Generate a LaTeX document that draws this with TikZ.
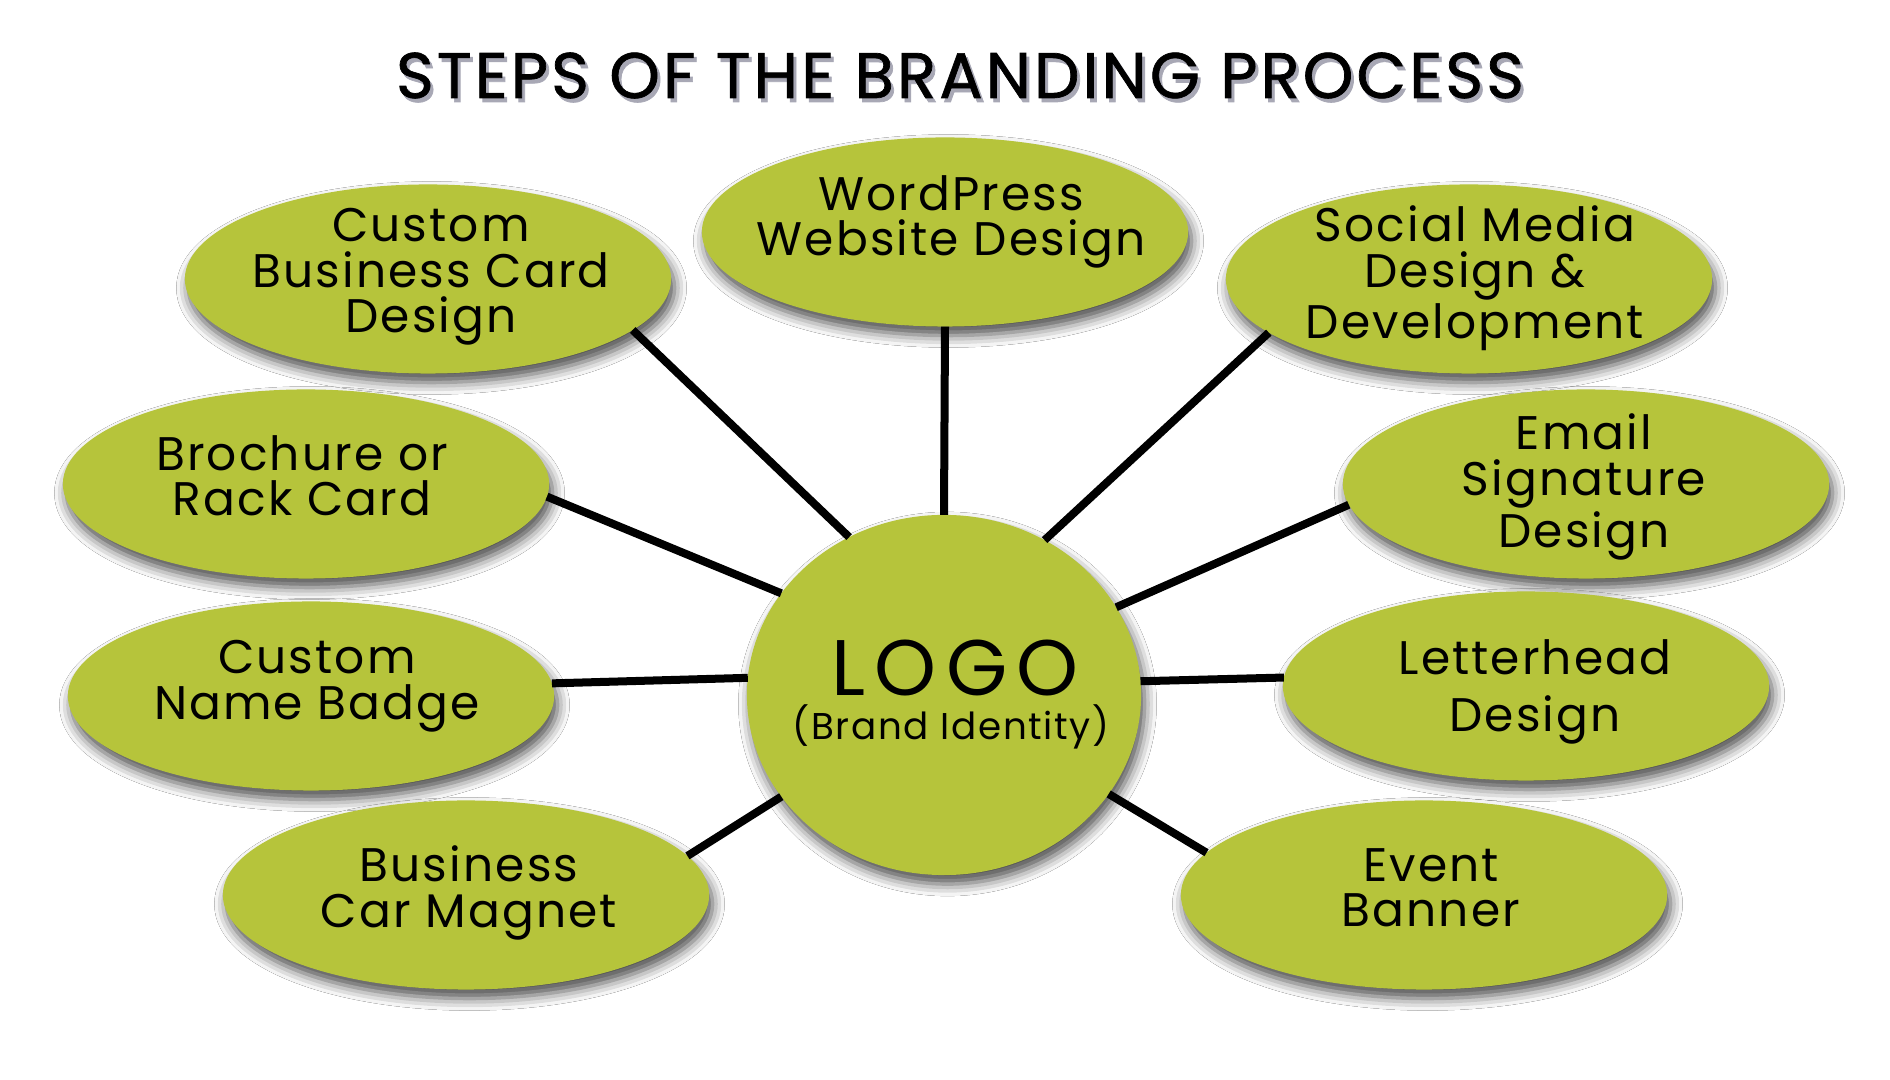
\documentclass[tikz,border=0pt]{standalone}
\usepackage{fontspec}
\setmainfont{Poppins}
\newfontfamily\bubfam[LetterSpace=4.5]{Poppins}
\newfontfamily\titlefam[LetterSpace=4.8,FakeBold=1.1]{Poppins}
\newfontfamily\logofam[LetterSpace=12]{Poppins}
\usetikzlibrary{shapes.geometric,shadows.blur}
\definecolor{bgreen}{RGB}{182,196,59}
\tikzset{
  bub/.style={ellipse, fill=bgreen, minimum width=4.86cm, minimum height=1.89cm,
    inner sep=0pt, outer sep=0pt,
    blur shadow={shadow xshift=0.035cm, shadow yshift=-0.09cm, shadow blur radius=0.12cm, shadow opacity=70}},
  hub/.style={bub, minimum width=3.94cm, minimum height=3.6cm},
  txt/.style={align=center, inner sep=0pt, font=\bubfam\fontsize{13.4}{12.95}\selectfont},
  txtwide/.style={txt, font=\bubfam\fontsize{13.4}{16.2}\selectfont},
  conn/.style={line width=0.08cm, black},
}
\begin{document}
\begin{tikzpicture}[x=0.01cm, y=-0.01cm]
\useasboundingbox[fill=white] (0,0) rectangle (1890,1080);
% title with its shadow
\begin{scope}[transparency group, opacity=0.75]
\node[anchor=base, inner sep=0pt, text=gray!80!blue!60!black!60, font=\titlefam\fontsize{18.3}{20}\selectfont] (titleshadow) at (963,102) {STEPS OF THE BRANDING PROCESS};
\end{scope}
\node[anchor=base, inner sep=0pt, font=\titlefam\fontsize{18.3}{20}\selectfont] (title) at (960,98) {STEPS OF THE BRANDING PROCESS};
% bubbles
\node[bub] (bc) at (428,279) {};
\node[bub] (wp) at (945,232) {};
\node[bub] (sm) at (1469,279) {};
\node[bub] (br) at (306,484) {};
\node[bub] (em) at (1586,484) {};
\node[bub] (nb) at (311,696) {};
\node[bub] (lh) at (1526,686) {};
\node[bub] (cm) at (466,895) {};
\node[bub] (ev) at (1424,895) {};
\node[hub] (logo) at (944,695) {};
% texts
\node[txt] (bct) at (431,277) {Custom\\Business Card\\Design};
\node[txt] (wpt) at (951,222) {WordPress\\Website Design};
\node[txt] (smt) at (1475,278) {Social Media\\Design \&\\Development};
\node[txt] (brt) at (302,476) {Brochure or\\Rack Card};
\node[txt] (emt) at (1584,487) {Email\\Signature\\Design};
\node[txt] (nbt) at (317,686) {Custom\\Name Badge};
\node[txtwide] (lht) at (1535,692) {Letterhead\\Design};
\node[txt] (cmt) at (469,893) {Business\\Car Magnet};
\node[txt] (evt) at (1431,888) {Event\\Banner};
\node[align=center, inner sep=0pt, font=\bubfam\fontsize{10.6}{12.5}\selectfont] (logot) at (951,695)
  {{\logofam\fontsize{22.4}{12.5}\selectfont LOGO\kern-0.1em}\\(Brand Identity)};
% connectors
\draw[conn] (bc.-14.7) -- (logo.121.2);
\draw[conn] (wp.-90) -- (logo.90);
\draw[conn] (sm.-165.3) -- (logo.57.2);
\draw[conn] (br.-3) -- (logo.148.9);
\draw[conn] (em.185.3) -- (logo.27.2);
\draw[conn] (nb.3.8) -- (logo.175.6);
\draw[conn] (lh.178.6) -- (logo.4.3);
\draw[conn] (cm.10.8) -- (logo.212.8);
\draw[conn] (ev.169) -- (logo.-31.4);
\end{tikzpicture}
\end{document}
